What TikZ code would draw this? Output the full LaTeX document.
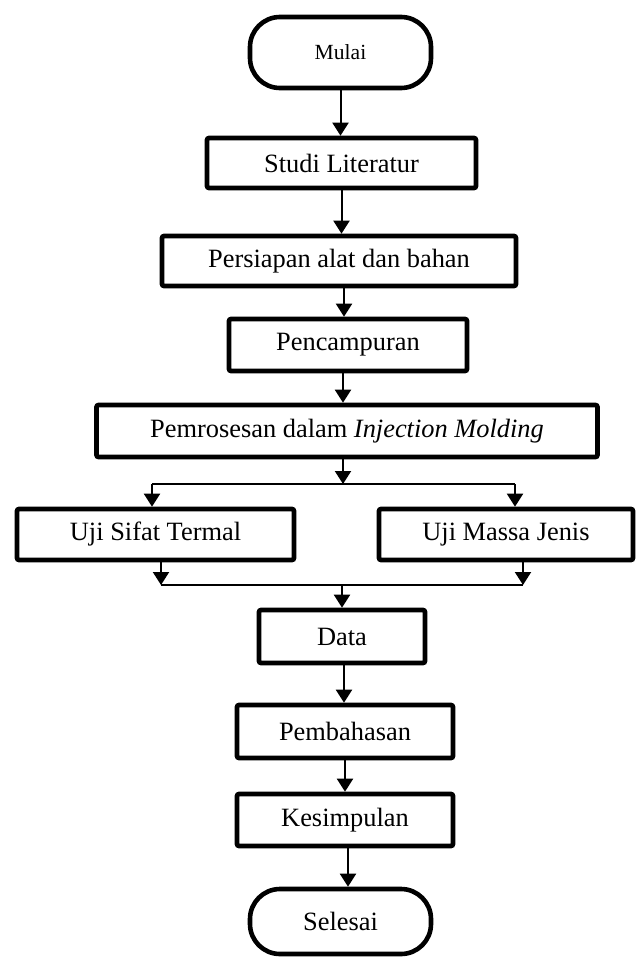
\documentclass[tikz,border=0pt]{standalone}
\usepackage{fontspec}
\setmainfont{Liberation Serif}
\usetikzlibrary{arrows.meta}
\begin{document}
\begin{tikzpicture}[x=0.5pt,y=-0.5pt,
  box/.style={draw,line width=2.3pt,rounded corners=1pt,inner sep=0pt,align=center,font=\fontsize{13.2pt}{15.5pt}\selectfont},
  term/.style={box,rounded corners=15pt},
  arr/.style={line width=1pt,-{Triangle[length=6.5pt,width=8pt]}},
  ln/.style={line width=1pt}]
\useasboundingbox (0,0) rectangle (639,958);
\node[term,minimum width=90.5pt,minimum height=35.5pt,font=\fontsize{10.8pt}{12pt}\selectfont] (mulai) at (340.5,52.5) {Mulai};
\node[box,minimum width=134.5pt,minimum height=25pt] (studi) at (341.5,163) {Studi Literatur};
\node[box,minimum width=177pt,minimum height=25pt] (persiapan) at (339,261) {Persiapan alat dan bahan};
\node[box,minimum width=119pt,minimum height=26pt] (campur) at (348,345) {Pencampuran};
\node[box,minimum width=250.5pt,minimum height=26pt] (proses) at (347,431) {Pemrosesan dalam \textit{Injection Molding}};
\node[box,minimum width=138.5pt,minimum height=25.5pt] (termal) at (155.5,534.5) {Uji Sifat Termal};
\node[box,minimum width=127pt,minimum height=25.5pt] (massa) at (506,534.5) {Uji Massa Jenis};
\node[box,minimum width=83pt,minimum height=26.5pt] (data) at (342,636.5) {Data};
\node[box,minimum width=108pt,minimum height=26.5pt] (bahas) at (345,731.5) {Pembahasan};
\node[box,minimum width=108pt,minimum height=26pt] (simpul) at (345,820) {Kesimpulan};
\node[term,minimum width=90.5pt,minimum height=32.5pt] (selesai) at (340.5,921.5) {Selesai};

\coordinate (split) at (343,484);
\coordinate (sl) at (152,484);
\coordinate (sr) at (515,484);
\coordinate (merge) at (342,585);
\coordinate (ml) at (161,585);
\coordinate (mr) at (523,585);

\draw[arr] (mulai.south) -- (mulai.south |- studi.north);
\draw[arr] (studi.south) -- (studi.south |- persiapan.north);
\draw[arr] ([xshift=2.5pt]persiapan.south) -- ([xshift=2.5pt]persiapan.south |- campur.north);
\draw[arr] ([xshift=-2.5pt]campur.south) -- ([xshift=-2.5pt]campur.south |- proses.north);
\draw[arr] (split |- proses.south) -- (split);
\draw[ln] (sl) -- (sr);
\draw[arr] (sl) -- (sl |- termal.north);
\draw[arr] (sr) -- (sr |- massa.north);
\draw[arr] (ml |- termal.south) -- (ml);
\draw[arr] (mr |- massa.south) -- (mr);
\draw[ln] (ml) -- (mr);
\draw[arr] (merge) -- (merge |- data.north);
\draw[arr] ([xshift=1pt]data.south) -- ([xshift=1pt]data.south |- bahas.north);
\draw[arr] (bahas.south) -- (bahas.south |- simpul.north);
\draw[arr] ([xshift=1.5pt]simpul.south) -- ([xshift=1.5pt]simpul.south |- selesai.north);
\end{tikzpicture}
\end{document}
